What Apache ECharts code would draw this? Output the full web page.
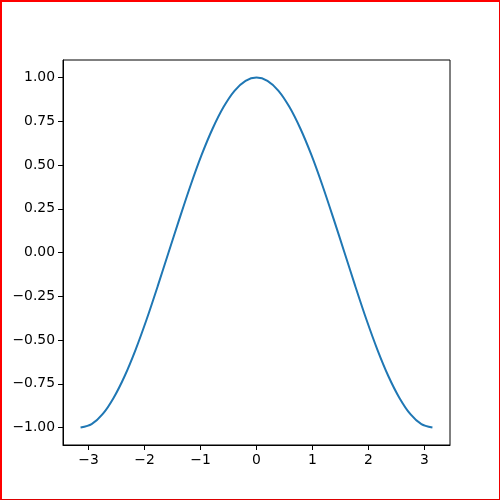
<!DOCTYPE html>
<html>
<head>
<meta charset="utf-8">
<script src="https://cdn.jsdelivr.net/npm/echarts@6/dist/echarts.min.js"></script>
<style>
html,body{margin:0;padding:0;background:#fff;}
#wrap{position:relative;width:500px;height:500px;}
#chart{position:absolute;left:0;top:0;width:500px;height:500px;}
#frame{position:absolute;left:0;top:0;width:500px;height:500px;box-sizing:border-box;border-left:2px solid #f00;border-top:2px solid #f00;border-right:1px solid #e00;border-bottom:1px solid #d00;pointer-events:none;}
</style>
</head>
<body>
<div id="wrap"><div id="chart"></div><div id="frame"></div></div>
<script>
// Values
var xValues = [-3.142,-2.945,-2.749,-2.553,-2.356,-2.160,-1.963,-1.767,-1.571,-1.374,-1.178,-0.982,-0.785,-0.589,-0.393,-0.196,0,
  0.196,0.393,0.589,0.785,0.982,1.178,1.374,1.571,1.767,1.963,2.160,2.356,2.553,2.749,2.945,3.142];
var yValues = [-1,-0.981,-0.924,-0.831,-0.707,-0.556,-0.383,-0.195,0,0.195,0.383,0.556,0.707,0.831,0.924,0.981,1,
  0.981,0.924,0.831,0.707,0.556,0.383,0.195,0,-0.195,-0.383,-0.556,-0.707,-0.831,-0.924,-0.981,-1];
var xTicks = [-3,-2,-1,0,1,2,3];
var yTicks = [-1,-0.75,-0.5,-0.25,0,0.25,0.5,0.75,1];

var pts = xValues.map(function(x,i){return [x,yValues[i]];});
function minus(s){return String(s).replace('-','\u2212');}
var font = 'DejaVu Sans';
var chart = echarts.init(document.getElementById('chart'), null, {renderer:'canvas'});
chart.setOption({
  animation:false,
  grid:{left:63,right:50,top:60,bottom:55,show:true,borderColor:'#000',borderWidth:1,containLabel:false},
  xAxis:{type:'value',min:-3.4558,max:3.4558,position:'bottom',
    axisLine:{show:true,onZero:false,lineStyle:{color:'#000',width:1}},splitLine:{show:false},
    axisTick:{show:true,customValues:xTicks,length:5,inside:false,lineStyle:{color:'#000',width:1}},
    axisLabel:{customValues:xTicks,margin:8,color:'#000',fontFamily:font,fontSize:13.9,
      formatter:function(v){return minus(v);}}},
  yAxis:{type:'value',min:-1.1,max:1.1,position:'left',
    axisLine:{show:true,onZero:false,lineStyle:{color:'#000',width:1}},splitLine:{show:false},
    axisTick:{show:true,customValues:yTicks,length:5,inside:false,lineStyle:{color:'#000',width:1}},
    axisLabel:{customValues:yTicks,margin:8,color:'#000',fontFamily:font,fontSize:13.9,
      formatter:function(v){return minus(v.toFixed(2));}}},
  series:[{type:'line',data:pts,smooth:0.3,showSymbol:false,
    lineStyle:{color:'#1f77b4',width:2}}]
});
</script>
</body>
</html>
